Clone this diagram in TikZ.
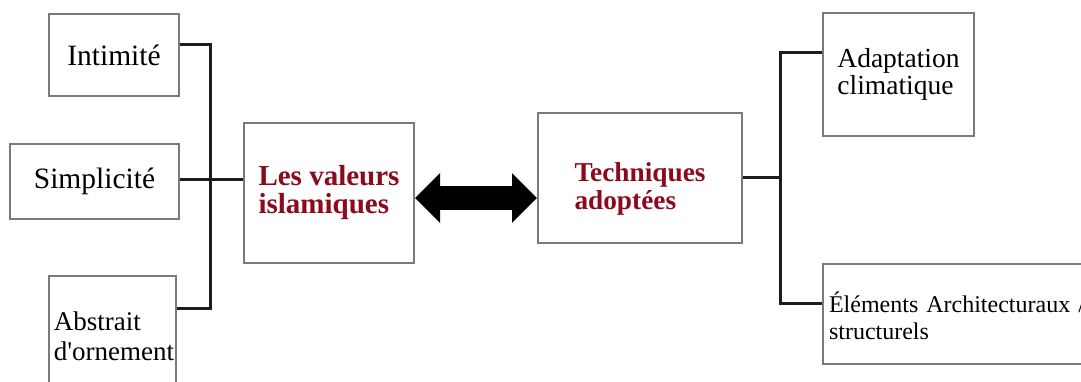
\documentclass[tikz,border=0pt]{standalone}
\usepackage{fontspec}
\setmainfont{Liberation Serif}[Ligatures=TeXOff]
\usetikzlibrary{arrows.meta,positioning,calc}
\definecolor{vRed}{HTML}{8B0A1C}
\definecolor{vFrame}{HTML}{7A7A7A}
\definecolor{vLink}{HTML}{1C1C1C}
\tikzset{
  box/.style ={draw=vFrame,line width=2pt,fill=white,anchor=north west,inner sep=0pt,align=left},
  lbl/.style ={font=\fontsize{29.5}{27}\selectfont},
  lblb/.style={font=\fontsize{27}{30}\selectfont},
  lblr/.style={font=\fontsize{27.5}{27}\selectfont},
  key/.style ={text=vRed,font=\fontsize{29}{28}\selectfont\bfseries},
  key2/.style={text=vRed,font=\fontsize{27.3}{28}\selectfont\bfseries},
  link/.style={vLink,line width=3pt},
  dbl/.style ={line width=24pt,{Triangle[length=25pt,width=48pt]}-{Triangle[length=25pt,width=48pt]}},
}
\begin{document}
\begin{tikzpicture}[x=1pt,y=-1pt]
  \useasboundingbox (0,0) rectangle (1081,382);
  \clip (0,0) rectangle (1081,382);
  \fill[white] (0,0) rectangle (1081,382);

  % left side
  \node[box,lbl,minimum width=130pt,minimum height=82pt] (int) at (48,13) {Intimité};
  \node[box,lbl,minimum width=169pt,minimum height=75pt] (simp) at (9,143) {Simplicité};
  \node[box,lblb,minimum width=127pt,minimum height=120pt] (abs) at (48,275) {\hspace*{3pt}Abstrait\\\hspace*{3pt}d'ornement};
  \node[box,key,minimum width=170pt,minimum height=140pt] (val) at (243,122) {Les valeurs\\islamiques};

  % right side
  \node[box,key2,minimum width=204pt,minimum height=130pt] (tech) at (537,112) {\rule{0pt}{40pt}Techniques\\adoptées};
  \node[box,lblr,minimum width=151pt,minimum height=123pt] (ada) at (822,12) {Adaptation\\climatique};
  \node[box,font=\fontsize{24}{27}\selectfont,text width=400pt,inner xsep=6pt,minimum height=100pt] (ele) at (822,263)
        {\rule{0pt}{24pt}Éléments Architecturaux /\\structurels};

  \coordinate (jT) at (210,45);
  \coordinate (jB) at (210,308);
  \coordinate (rT) at (780,53);
  \coordinate (rB) at (780,303);
  \coordinate (rM) at (780,178);
  \coordinate (aY) at (475,198);

  \draw[link] (int.east |- jT) -- (jT) -- (jB) -- (abs.east |- jB);
  \draw[link] (simp.east |- 0,180) -- (val.west |- 0,180);
  \draw[link] (tech.east |- rM) -- (rM);
  \draw[link] (ada.west |- rT) -- (rT) -- (rB) -- (ele.west |- rB);

  \draw[dbl] (val.east |- aY) -- (tech.west |- aY);
\end{tikzpicture}
\end{document}
